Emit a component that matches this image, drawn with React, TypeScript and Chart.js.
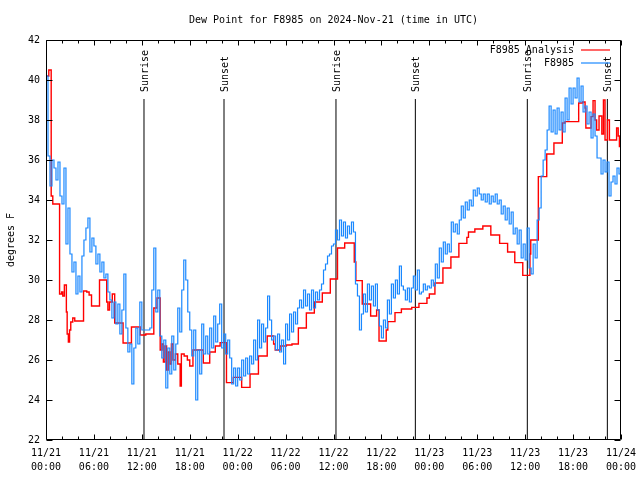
import React, { useEffect, useRef } from "react";
import { Chart, registerables } from "chart.js";

Chart.register(...registerables);

const FONT = "DejaVu Sans Mono";
const RED = "#ff0000";
const BLUE = "#1a88ff";

const chartTitle = "Dew Point for F8985 on 2024-Nov-21 (time in UTC)";
const yAxisTitle = "degrees F";

// x axis: hours since 2024-11-21 00:00 UTC
const tickHours = [0, 6, 12, 18, 24, 30, 36, 42, 48, 54, 60, 66, 72];
const tickDates = ["11/21", "11/21", "11/21", "11/21", "11/22", "11/22", "11/22", "11/22", "11/23", "11/23", "11/23", "11/23", "11/24"];
const tickTimes = ["00:00", "06:00", "12:00", "18:00", "00:00", "06:00", "12:00", "18:00", "00:00", "06:00", "12:00", "18:00", "00:00"];
const yTicks = [22, 24, 26, 28, 30, 32, 34, 36, 38, 40, 42];

// sunrise / sunset marks (hours)
const sunTimes = [12.27, 22.29, 36.31, 46.25, 60.27, 70.29];
const sunLabels = ["Sunrise", "Sunset", "Sunrise", "Sunset", "Sunrise", "Sunset"];
const sunLineTop = 39.05;

// F8985 observations, one reading every 15 minutes from 00:00
const obsStartHour = 0;
const obsStepHours = 0.25;
const obsValues = [
  40.2, 36.2, 34.7, 36.0, 35.6, 35.0, 35.9, 34.2,
  33.8, 35.6, 31.8, 33.6, 31.3, 30.4, 30.9, 29.3,
  30.2, 29.4, 31.2, 32.0, 32.6, 33.1, 31.4, 32.1,
  31.7, 30.8, 31.3, 30.4, 30.9, 30.1, 30.3, 29.4,
  29.0, 28.1, 28.9, 27.8, 28.8, 27.3, 28.5, 30.3,
  27.6, 26.4, 26.8, 24.8, 26.6, 27.6, 26.8, 28.9,
  27.5, 27.5, 27.5, 27.5, 27.6, 29.5, 31.6, 28.4,
  29.5, 27.2, 26.1, 27.0, 24.6, 26.6, 25.3, 27.2,
  25.5, 26.8, 28.6, 27.4, 29.5, 31.0, 30.0, 28.4,
  27.5, 26.2, 27.5, 24.0, 26.5, 25.3, 27.8, 26.3,
  27.2, 26.3, 27.6, 26.6, 28.2, 26.9, 27.8, 28.8,
  26.6, 27.3, 26.3, 27.0, 26.1, 24.8, 25.6, 24.7,
  25.6, 25.0, 26.0, 25.2, 26.1, 25.3, 26.2, 25.8,
  27.0, 26.0, 28.0, 26.6, 27.8, 26.9, 27.6, 29.2,
  28.0, 27.0, 27.2, 26.5, 27.3, 26.4, 27.0, 25.8,
  27.8, 27.0, 28.3, 27.4, 28.4, 27.8, 28.6, 29.0,
  28.6, 29.5, 28.7, 29.3, 28.5, 29.5, 28.6, 29.4,
  29.0, 29.5, 29.8, 30.5, 30.8, 31.2, 31.3, 31.7,
  31.8, 32.5, 32.0, 33.0, 32.2, 32.9, 32.1, 32.7,
  32.3, 32.9, 32.4, 29.8, 29.2, 27.5, 28.3, 29.3,
  28.4, 29.8, 29.0, 29.7, 28.7, 29.8, 28.5, 27.7,
  27.1, 28.0, 27.6, 29.0, 28.3, 29.8, 29.1, 30.0,
  29.3, 30.7, 29.7, 29.5, 29.0, 29.6, 28.9, 29.6,
  30.2, 29.5, 30.5, 29.3, 29.4, 29.8, 29.5, 29.7,
  29.6, 30.0, 29.7, 30.8, 30.1, 31.6, 30.9, 31.9,
  31.3, 31.8, 31.4, 32.9, 32.4, 32.8, 32.3, 33.0,
  33.7, 33.1, 33.9, 33.5, 34.0, 33.7, 34.5, 34.2,
  34.6, 34.3, 34.0, 34.3, 33.9, 34.3, 33.8, 34.2,
  33.9, 34.3, 33.8, 34.0, 33.3, 33.7, 33.0, 33.6,
  32.8, 33.4, 32.3, 32.6, 31.8, 32.5, 31.1, 31.8,
  31.0, 32.6, 30.6, 30.3, 31.8, 31.1, 33.0, 33.6,
  35.2, 36.0, 36.5, 37.5, 38.7, 37.4, 38.5, 37.3,
  38.6, 37.5, 38.4, 37.4, 39.1, 38.0, 39.6, 38.8,
  39.6, 39.1, 40.1, 38.9, 39.7, 38.4, 38.7, 37.8,
  38.4, 37.1, 38.3, 37.2, 36.1, 36.1, 35.3, 36.0,
  35.4, 35.9, 34.2, 34.9, 35.2, 34.8, 35.6, 35.3,
  35.6,
];

// F8985 Analysis: value changes (hour, value)
const anaTimes = [
  0.15, 0.35, 0.65, 0.85, 1.7, 1.95, 2.1, 2.3, 2.55, 2.65, 2.8, 2.95, 3.1, 3.35, 3.6, 4.7,
  5.1, 5.4, 5.7, 6.7, 7.6, 7.75, 7.95, 8.3, 8.6, 9.65, 10.7, 11.8, 12.5, 13.5, 13.9, 14.3,
  14.5, 14.7, 14.9, 15.1, 15.3, 15.5, 15.7, 15.9, 16.2, 16.5, 16.8, 16.95, 17.3, 17.7, 18.0, 18.4,
  19.7, 20.5, 21.2, 21.8, 22.6, 23.45, 24.5, 25.55, 26.6, 27.7, 28.5, 28.7, 29.3, 30.1, 30.8, 31.6,
  32.6, 33.6, 34.6, 35.6, 36.5, 37.4, 38.6, 38.8, 39.6, 40.65, 41.4, 41.7, 42.6, 42.8, 43.7, 44.5,
  45.8, 46.7, 47.7, 48.0, 48.7, 49.7, 50.7, 51.7, 52.7, 52.9, 53.7, 54.7, 55.7, 56.8, 57.8, 58.7,
  59.7, 60.6, 60.7, 61.65, 62.7, 63.6, 64.65, 65.0, 66.7, 67.2, 67.5, 67.6, 68.25, 68.5, 68.75, 68.95,
  69.25, 69.6, 69.8, 70.0, 70.3, 70.55, 71.45, 71.65, 71.8, 72.0,
];
const anaValues = [
  40.2, 40.5, 34.2, 33.8, 29.3, 29.4, 29.2, 29.75, 28.4, 27.3, 26.9, 27.5, 27.9, 28.1, 27.95, 29.45,
  29.4, 29.25, 28.7, 30.0, 28.9, 28.5, 28.9, 29.3, 27.85, 26.85, 27.65, 27.25, 27.3, 28.6, 29.1, 26.5,
  26.8, 25.9, 26.7, 25.5, 26.4, 25.8, 26.8, 26.0, 26.3, 25.8, 24.7, 26.3, 26.2, 26.0, 25.7, 26.5,
  25.85, 26.4, 26.7, 26.87, 24.87, 25.13, 24.63, 25.3, 26.2, 27.2, 26.8, 26.5, 26.7, 26.75, 26.8, 27.6,
  28.35, 28.9, 29.35, 30.05, 31.6, 31.85, 30.9, 29.97, 28.8, 28.2, 28.5, 26.95, 27.5, 27.92, 28.37, 28.55,
  28.63, 28.83, 29.1, 29.3, 29.85, 30.6, 31.15, 31.83, 32.13, 32.4, 32.55, 32.7, 32.25, 31.83, 31.4, 30.87,
  30.23, 31.3, 32.0, 35.17, 36.3, 36.85, 37.85, 37.92, 38.85, 38.9, 38.6, 37.6, 38.17, 38.97, 38.0, 37.5,
  38.2, 37.3, 39.0, 37.0, 38.0, 37.0, 37.6, 37.2, 36.67, 36.67,
];

export default function App() {
  const ref = useRef<HTMLCanvasElement>(null);

  useEffect(() => {
    const prevMargin = document.body.style.margin;
    document.body.style.margin = "0";
    const canvas = ref.current;
    if (!canvas) return;

    const obs = obsValues.map((v, i) => ({ x: obsStartHour + i * obsStepHours, y: v }));
    const ana = anaTimes.map((t, i) => ({ x: t, y: anaValues[i] }));
    const sunSets = sunTimes.map((t) => ({
      label: "sun",
      data: [
        { x: t, y: 22 },
        { x: t, y: sunLineTop },
      ],
      borderColor: "#000",
      borderWidth: 1,
      pointRadius: 0,
      order: 2,
    }));

    const overlay = {
      id: "gnuplotOverlay",
      afterDraw(chart: any) {
        const { ctx, chartArea } = chart;
        const { left, right, top, bottom } = chartArea;
        const xs = chart.scales.x;
        const ys = chart.scales.y;
        ctx.save();
        ctx.strokeStyle = "#000";
        ctx.lineWidth = 1;
        const L = Math.round(left) + 0.5;
        const R = Math.round(right) - 0.5;
        const T = Math.round(top) + 0.5;
        const B = Math.round(bottom) - 0.5;
        ctx.beginPath();
        ctx.rect(L, T, R - L, B - T);
        // y ticks
        yTicks.forEach((v) => {
          const py = Math.round(ys.getPixelForValue(v)) + 0.5;
          ctx.moveTo(L, py);
          ctx.lineTo(L + 6, py);
          ctx.moveTo(R, py);
          ctx.lineTo(R - 6, py);
        });
        // x ticks, major every 6 h, minor every 2 h
        for (let h = 0; h <= 72; h += 2) {
          const px = Math.round(xs.getPixelForValue(h)) + 0.5;
          const len = h % 6 === 0 ? 5 : 3;
          ctx.moveTo(px, B);
          ctx.lineTo(px, B - len);
          ctx.moveTo(px, T);
          ctx.lineTo(px, T + len);
        }
        ctx.stroke();

        ctx.fillStyle = "#000";
        ctx.font = `10px "${FONT}"`;
        // title
        ctx.textAlign = "center";
        ctx.textBaseline = "middle";
        ctx.fillText(chartTitle, (left + right) / 2, 20);
        // y title
        ctx.save();
        ctx.translate(11, (top + bottom) / 2);
        ctx.rotate(-Math.PI / 2);
        ctx.fillText(yAxisTitle, 0, 0);
        ctx.restore();
        // sunrise / sunset labels
        sunTimes.forEach((t, i) => {
          const px = xs.getPixelForValue(t);
          const py = ys.getPixelForValue(sunLineTop) - 7;
          ctx.save();
          ctx.translate(px + 1, py);
          ctx.rotate(-Math.PI / 2);
          ctx.textAlign = "left";
          ctx.textBaseline = "middle";
          ctx.fillText(sunLabels[i], 0, 0);
          ctx.restore();
        });
        // legend
        const legend = [
          { text: "F8985 Analysis", color: RED, y: 50 },
          { text: "F8985", color: BLUE, y: 63 },
        ];
        legend.forEach((it) => {
          ctx.textAlign = "right";
          ctx.textBaseline = "middle";
          ctx.fillStyle = "#000";
          ctx.fillText(it.text, 574, it.y);
          ctx.strokeStyle = it.color;
          ctx.lineWidth = 1.2;
          ctx.beginPath();
          ctx.moveTo(581, it.y);
          ctx.lineTo(610, it.y);
          ctx.stroke();
        });
        ctx.restore();
      },
    };

    const chart = new Chart(canvas, {
      type: "line",
      data: {
        datasets: [
          {
            label: "F8985",
            data: obs,
            borderColor: BLUE,
            borderWidth: 1.2,
            stepped: true,
            pointRadius: 0,
            order: 0,
          },
          {
            label: "F8985 Analysis",
            data: ana,
            borderColor: RED,
            borderWidth: 1.4,
            stepped: true,
            pointRadius: 0,
            order: 1,
          },
          ...sunSets,
        ] as any,
      },
      options: {
        responsive: false,
        animation: false,
        events: [],
        layout: { padding: { top: 40, right: 19, left: 0, bottom: 0 } },
        plugins: {
          legend: { display: false },
          title: { display: false },
          tooltip: { enabled: false },
        },
        scales: {
          x: {
            type: "linear",
            min: 0,
            max: 72,
            afterBuildTicks: (s: any) => {
              s.ticks = tickHours.map((v) => ({ value: v }));
            },
            ticks: {
              callback: (v: any) => {
                const i = tickHours.indexOf(Number(v));
                return i >= 0 ? [tickDates[i], tickTimes[i]] : "";
              },
              font: { family: FONT, size: 10, lineHeight: 1.35 },
              color: "#000",
              padding: 7,
              maxRotation: 0,
              autoSkip: false,
            },
            grid: { display: false, drawTicks: false },
            border: { display: false },
            afterFit: (s: any) => {
              s.height = 40;
              s.paddingLeft = 0;
              s.paddingRight = 0;
            },
          },
          y: {
            min: 22,
            max: 42,
            afterBuildTicks: (s: any) => {
              s.ticks = yTicks.map((v) => ({ value: v }));
            },
            ticks: {
              font: { family: FONT, size: 10 },
              color: "#000",
              padding: 6,
            },
            grid: { display: false, drawTicks: false },
            border: { display: false },
            afterFit: (s: any) => {
              s.width = 46;
              s.paddingTop = 0;
              s.paddingBottom = 0;
            },
          },
        },
      } as any,
      plugins: [overlay],
    });

    return () => {
      chart.destroy();
      document.body.style.margin = prevMargin;
    };
  }, []);

  return (
    <div style={{ width: 640, height: 480 }}>
      <canvas ref={ref} width={640} height={480} style={{ display: "block" }} />
    </div>
  );
}
